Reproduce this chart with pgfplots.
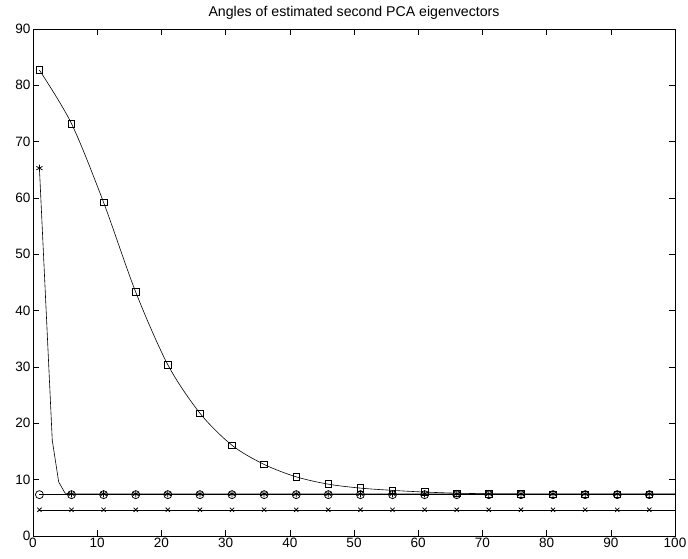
\documentclass[border=0pt]{standalone}
\usepackage{pgfplots}
\pgfplotsset{compat=1.18}
\usepackage{fontspec}
\setmainfont{Liberation Sans}
\begin{document}
\begin{tikzpicture}
\path[use as bounding box] (-33bp,-23bp) rectangle (655bp,536bp);
\begin{axis}[
  at={(0,0)}, anchor=south west,
  scale only axis, width=642bp, height=507bp,
  xmin=0, xmax=100, ymin=0, ymax=90,
  xtick={0,10,...,100}, ytick={0,10,...,90},
  tick align=inside, major tick length=6bp,
  axis line style={line width=0.9bp},
  every tick/.style={black, line width=0.6bp},
  tick label style={font=\fontsize{13.6}{15}\selectfont},
  /pgf/number format/assume math mode=true,
  xticklabel style={yshift=1bp},
  yticklabel style={xshift=1bp},
  title={Angles of estimated second PCA eigenvectors},
  title style={font=\fontsize{14.2}{16}\selectfont, at={(0.5,1)}, anchor=south, yshift=0bp},
  every axis plot/.append style={black, line width=0.6bp, mark options={line width=0.75bp}},
]
% squares
\addplot[smooth, tension=0.5, mark=square, mark size=3.3bp, mark indices={1,...,20}] coordinates {
(1,82.7)(6,73.2)(11,59.2)(16,43.3)(21,30.4)(26,21.8)(31,16.1)(36,12.7)(41,10.5)(46,9.2)
(51,8.5)(56,8.1)(61,7.8)(66,7.6)(71,7.5)(76,7.45)(81,7.42)(86,7.42)(91,7.42)(96,7.42)(100,7.42)};
% stars
\addplot[mark=asterisk, mark size=3.5bp, mark indices={1,6,7,8,9,10,11,12,13,14,15,16,17,18,19,20,21,22,23,24}] coordinates {
(1,65.3)(2,41.2)(3,17.0)(4,9.6)(5,7.6)(6,7.46)(11,7.46)(16,7.46)(21,7.46)(26,7.46)(31,7.46)(36,7.46)(41,7.46)(46,7.46)
(51,7.46)(56,7.46)(61,7.46)(66,7.46)(71,7.46)(76,7.46)(81,7.46)(86,7.46)(91,7.46)(96,7.46)(100,7.46)};
% circles
\addplot[mark=o, mark size=4bp, mark indices={1,...,20}] coordinates {
(1,7.34)(6,7.34)(11,7.34)(16,7.34)(21,7.34)(26,7.34)(31,7.34)(36,7.34)(41,7.34)(46,7.34)
(51,7.34)(56,7.34)(61,7.34)(66,7.34)(71,7.34)(76,7.34)(81,7.34)(86,7.34)(91,7.34)(96,7.34)(100,7.34)};
% crosses
\addplot[mark=x, mark size=3bp, mark indices={1,...,20}] coordinates {
(1,4.65)(6,4.65)(11,4.65)(16,4.65)(21,4.65)(26,4.65)(31,4.65)(36,4.65)(41,4.65)(46,4.65)
(51,4.65)(56,4.65)(61,4.65)(66,4.65)(71,4.65)(76,4.65)(81,4.65)(86,4.65)(91,4.65)(96,4.65)(100,4.65)};
\end{axis}
\end{tikzpicture}
\end{document}
